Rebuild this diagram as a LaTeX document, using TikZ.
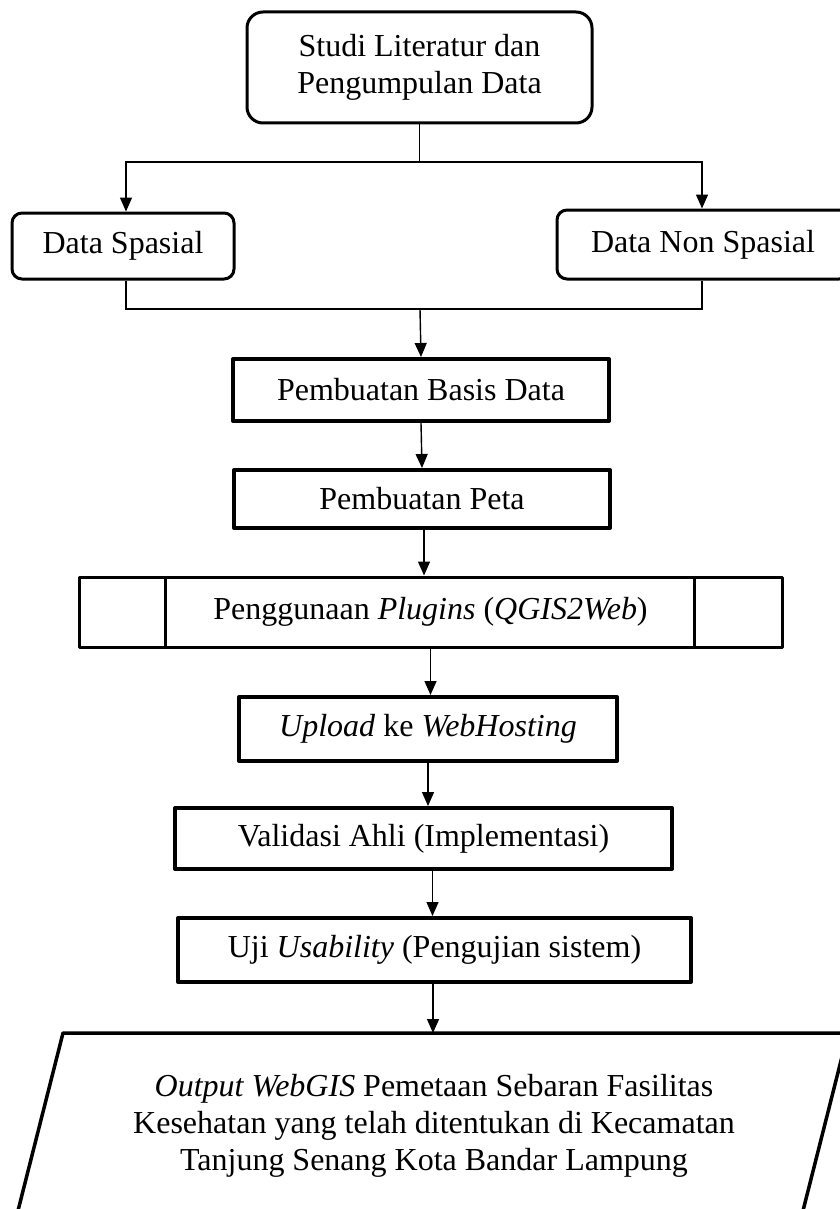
\documentclass[tikz,border=0pt]{standalone}
\usepackage{fontspec}
\setmainfont{Liberation Serif}
\usetikzlibrary{arrows.meta,calc}
\begin{document}
\begin{tikzpicture}[x=1pt,y=-1pt,
  every node/.style={font=\fontsize{32}{37}\selectfont, align=center, inner sep=0pt},
  rbox/.style={draw, line width=3pt, rounded corners=#1},
  sbox/.style={draw, line width=4pt, line join=round},
  pbox/.style={draw, line width=3pt, line join=round},
  conn/.style={line width=1.4pt},
  arr/.style={line width=1.4pt, -{Triangle[length=14pt,width=12pt]}}
]
\useasboundingbox (0,0) rectangle (839,1209);

\node[rbox=16pt, minimum width=345pt, minimum height=111pt] (top) at (419.5,67.5) {Studi Literatur dan\\Pengumpulan Data};
\node[rbox=10pt, minimum width=222pt, minimum height=66pt] (spasial) at (123,246) {Data Spasial};
\node[rbox=10pt, minimum width=292pt, minimum height=69pt] (nonspasial) at (703,244.5) {Data Non Spasial};
\node[sbox, minimum width=376pt, minimum height=62pt] (basis) at (421,390) {Pembuatan Basis Data};
\node[sbox, minimum width=376pt, minimum height=58pt] (peta) at (422,499) {Pembuatan Peta};
\node[pbox, minimum width=703pt, minimum height=70pt] (plugins) at (430.5,612) {Penggunaan \textit{Plugins} (\textit{QGIS2Web})};
\draw[line width=3pt] ([xshift=88pt]plugins.north west) -- ([xshift=88pt]plugins.south west);
\draw[line width=3pt] ([xshift=-89pt]plugins.north east) -- ([xshift=-89pt]plugins.south east);
\node[sbox, minimum width=378pt, minimum height=64pt] (upload) at (428,729) {\textit{Upload} ke \textit{WebHosting}};
\node[sbox, minimum width=497pt, minimum height=61pt] (validasi) at (423.5,838.5) {Validasi Ahli (Implementasi)};
\node[sbox, minimum width=513pt, minimum height=64pt] (uji) at (434.5,950) {Uji \textit{Usability} (Pengujian sistem)};

% output parallelogram
\draw[line width=3.5pt, line join=round] (63,1033) -- (848,1033) -- (790,1262) -- (5,1262) -- cycle;
\node (output) at (434,1126) {\textit{Output WebGIS} Pemetaan Sebaran Fasilitas\\Kesehatan yang telah ditentukan di Kecamatan\\Tanjung Senang Kota Bandar Lampung};
\coordinate (paratop) at (433,1033);

% connectors
\coordinate (j1) at (419.5,162);
\coordinate (j2) at (420,309);
\draw[conn] (top.south) -- (j1);
\draw[arr] (j1) -| ([xshift=3pt]spasial.north);
\draw[arr] (j1) -| ([xshift=-1pt]nonspasial.north);
\draw[conn] ([xshift=3pt]spasial.south) |- (j2) -| ([xshift=-1pt]nonspasial.south);
\draw[arr] (j2) -- (basis.north);
\draw[arr] (basis.south) -- (peta.north);
\draw[arr] ([xshift=2pt]peta.south) -- ([xshift=2pt]peta.south |- plugins.north);
\draw[arr] (plugins.south) -- (plugins.south |- upload.north);
\draw[arr] (upload.south) -- (upload.south |- validasi.north);
\draw[arr] ([xshift=9pt]validasi.south) -- ([xshift=9pt]validasi.south |- uji.north);
\draw[arr] ([xshift=-1.5pt]uji.south) -- (paratop);
\end{tikzpicture}
\end{document}
